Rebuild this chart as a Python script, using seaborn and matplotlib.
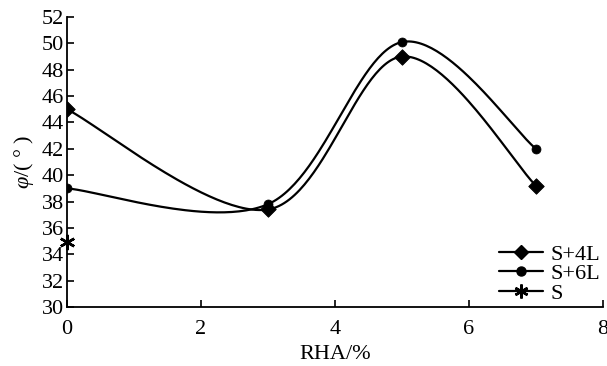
import numpy as np
import pandas as pd
import matplotlib
matplotlib.use("Agg")
import matplotlib.pyplot as plt
from matplotlib.lines import Line2D
import seaborn as sns

sns.set_theme(style="white")
plt.rcParams['font.family'] = ['Liberation Serif', 'DejaVu Serif']
plt.rcParams['mathtext.fontset'] = 'custom'
plt.rcParams['mathtext.it'] = 'Liberation Serif:italic'
plt.rcParams['mathtext.rm'] = 'Liberation Serif'
plt.rcParams['text.color'] = 'black'
plt.rcParams['axes.labelcolor'] = 'black'

# data
rha = [0, 3, 5, 7]
s4l = [45.0, 37.4, 49.0, 39.2]
s6l = [39.0, 37.8, 50.1, 42.0]
s_x = [0]
s_y = [34.9]
xticks = [0, 2, 4, 6, 8]
yticks = list(range(30, 53, 2))


def smooth(xs, ys, n=60):
    """Excel-like smoothed line (Catmull-Rom as cubic Bezier)."""
    P = np.column_stack([xs, ys]).astype(float)
    out = []
    for i in range(len(P) - 1):
        p0 = P[i - 1] if i > 0 else P[i]
        p1 = P[i]
        p2 = P[i + 1]
        p3 = P[i + 2] if i + 2 < len(P) else P[i + 1]
        c1 = p1 + (p2 - p0) / 6.0
        c2 = p2 - (p3 - p1) / 6.0
        t = np.linspace(0, 1, n)[:, None]
        seg = ((1 - t) ** 3) * p1 + 3 * ((1 - t) ** 2) * t * c1 + 3 * (1 - t) * t ** 2 * c2 + t ** 3 * p2
        out.append(seg if i == 0 else seg[1:])
    a = np.vstack(out)
    return a[:, 0], a[:, 1]


fig = plt.figure(figsize=(6.07, 3.66), dpi=100)
ax = fig.add_axes([67 / 607, 1 - 307 / 366, (603 - 67) / 607, (307 - 17) / 366])

lw = 1.6
for ys in (s4l, s6l):
    sx, sy = smooth(rha, ys)
    df = pd.DataFrame({"x": sx, "y": sy})
    sns.lineplot(data=df, x="x", y="y", sort=False, estimator=None, color="black", lw=lw, ax=ax)

sns.scatterplot(x=rha, y=s4l, marker="D", s=62, color="black", edgecolor="black", ax=ax, zorder=3)
sns.scatterplot(x=rha, y=s6l, marker="o", s=42, color="black", edgecolor="black", ax=ax, zorder=3)
ax.plot(s_x, s_y, marker=(6, 2, 0), ms=11, mew=1.8, color="black", ls="none", zorder=3, clip_on=False)

ax.set_xlim(0, 8)
ax.set_ylim(30, 52)
ax.set_xticks(xticks)
ax.set_yticks(yticks)
ax.tick_params(direction="in", length=5, width=1.2, labelsize=16, colors="black",
               bottom=True, left=True, top=False, right=False)
ax.tick_params(axis="x", pad=9)
ax.tick_params(axis="y", pad=2)
for side in ("top", "right"):
    ax.spines[side].set_visible(False)
for side in ("left", "bottom"):
    ax.spines[side].set_color("black")
    ax.spines[side].set_linewidth(1.3)

ax.set_xlabel("RHA/%", fontsize=16, labelpad=5)
ax.set_ylabel(r"$\varphi$/( ° )", fontsize=16, labelpad=4)

handles = [
    Line2D([], [], color="black", lw=lw, marker="D", ms=7.5),
    Line2D([], [], color="black", lw=lw, marker="o", ms=6.5),
    Line2D([], [], color="black", lw=lw, marker=(6, 2, 0), ms=10, mew=1.8),
]
ax.legend(handles, ["S+4L", "S+6L", "S"], loc="lower right", bbox_to_anchor=(1.0, 0.0),
          frameon=False, fontsize=16, handlelength=2.0, handletextpad=0.3,
          labelspacing=-0.05, borderaxespad=0.05, borderpad=0.1)

fig.savefig("out.png", dpi=100)
